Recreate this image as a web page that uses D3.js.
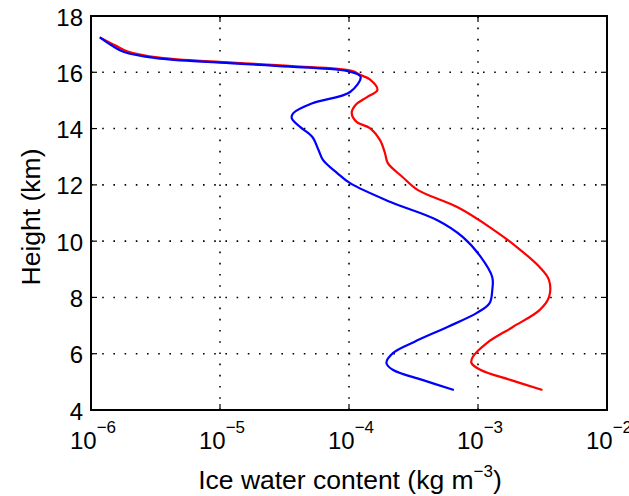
<!DOCTYPE html>
<html><head><meta charset="utf-8">
<script src="https://cdn.jsdelivr.net/npm/d3@7"></script>
<style>body{margin:0;background:#fff}svg{display:block}text{font-family:"Liberation Sans",Arial,sans-serif;fill:#000}</style>
</head><body>
<svg id="c" width="629" height="496"></svg>
<script>
const heights = [17.24,16.95,16.73,16.5,16.34,16.2,16.02,15.84,15.3,14.9,14.55,14.37,14.05,13.7,13.24,12.88,12.42,12.06,11.39,10.75,10.15,9.44,8.72,8.26,7.8,7.45,6.95,6.42,6.03,5.67,5.42,5.07,4.71];
const blueIWC = [1.17e-6,1.45e-6,1.78e-6,3.2e-6,1.0e-5,3.5e-5,1.02e-4,1.23e-4,1.02e-4,5.2e-5,3.7e-5,3.6e-5,4.2e-5,5.2e-5,5.8e-5,6.3e-5,8.1e-5,1.02e-4,2.1e-4,4.8e-4,7.6e-4,1.05e-3,1.29e-3,1.29e-3,1.23e-3,9.8e-4,5.8e-4,3.2e-4,2.2e-4,1.95e-4,2.2e-4,3.7e-4,6.5e-4];
const redHeights = [17.24,16.95,16.75,16.52,16.36,16.22,16.05,15.9,15.75,15.37,15.12,14.83,14.55,14.23,14.02,13.59,13.13,12.77,12.28,11.82,11.21,10.5,9.79,9.08,8.62,8.01,7.55,6.95,6.38,5.88,5.67,5.42,5.07,4.71];
const redIWC = [1.17e-6,1.55e-6,1.9e-6,3.4e-6,1.05e-5,3.6e-5,1.05e-4,1.23e-4,1.45e-4,1.66e-4,1.38e-4,1.12e-4,1.05e-4,1.15e-4,1.45e-4,1.74e-4,1.9e-4,2.0e-4,2.6e-4,3.4e-4,6.9e-4,1.23e-3,2.0e-3,3.0e-3,3.55e-3,3.55e-3,3.0e-3,1.86e-3,1.17e-3,9.1e-4,8.9e-4,1.05e-3,1.78e-3,3.16e-3];
const xTicks = [1e-6,1e-5,1e-4,1e-3,1e-2];
const xExps = ["\u22126","\u22125","\u22124","\u22123","\u22122"];
const yTicks = [4,6,8,10,12,14,16,18];

const L=91,R=607,T=16,B=410;
const svg=d3.select("#c");
const x=d3.scaleLog().domain([1e-6,1e-2]).range([L,R]);
const y=d3.scaleLinear().domain([4,18]).range([B,T]);

const grid=svg.append("g").attr("stroke","#000").attr("stroke-width",1.6).attr("stroke-dasharray","1.6,9.6");
xTicks.slice(1,-1).forEach(v=>grid.append("line").attr("x1",x(v)).attr("x2",x(v)).attr("y1",B).attr("y2",T));
yTicks.slice(1,-1).forEach(v=>grid.append("line").attr("x1",L).attr("x2",R).attr("y1",y(v)).attr("y2",y(v)));

const line=d3.line().curve(d3.curveCatmullRom.alpha(0.5));
svg.append("path").attr("d",line(redHeights.map((h,i)=>[x(redIWC[i]),y(h)]))).attr("fill","none").attr("stroke","#ff0000").attr("stroke-width",2.2);
svg.append("path").attr("d",line(heights.map((h,i)=>[x(blueIWC[i]),y(h)]))).attr("fill","none").attr("stroke","#0000ff").attr("stroke-width",2.2);

// ticks inside
const tk=svg.append("g").attr("stroke","#000").attr("stroke-width",1.2);
xTicks.forEach(v=>{tk.append("line").attr("x1",x(v)).attr("x2",x(v)).attr("y1",B).attr("y2",B-6);tk.append("line").attr("x1",x(v)).attr("x2",x(v)).attr("y1",T).attr("y2",T+6);});
yTicks.forEach(v=>{tk.append("line").attr("x1",L).attr("x2",L+6).attr("y1",y(v)).attr("y2",y(v));tk.append("line").attr("x1",R).attr("x2",R-6).attr("y1",y(v)).attr("y2",y(v));});

svg.append("rect").attr("x",L).attr("y",T).attr("width",R-L).attr("height",B-T).attr("fill","none").attr("stroke","#000").attr("stroke-width",2);

// x tick labels
xTicks.forEach((v,i)=>{
  const t=svg.append("text").attr("x",x(v)+2).attr("y",449).attr("text-anchor","middle").style("font-size","24px");
  t.append("tspan").text("10");
  t.append("tspan").attr("dy",-16).style("font-size","17px").text(xExps[i]);
});
yTicks.forEach(v=>{
  svg.append("text").attr("x",83).attr("y",y(v)+9.5).attr("text-anchor","end").style("font-size","24px").text(v);
});
const xl=svg.append("text").attr("x",350).attr("y",489).attr("text-anchor","middle").style("font-size","26.5px");
xl.append("tspan").text("Ice water content (kg m");
xl.append("tspan").attr("dy",-12).style("font-size","17px").text("\u22123");
xl.append("tspan").attr("dy",12).text(")");
svg.append("text").attr("transform","translate(40,217) rotate(-90)").attr("text-anchor","middle").style("font-size","26.5px").text("Height (km)");
</script>
</body></html>
